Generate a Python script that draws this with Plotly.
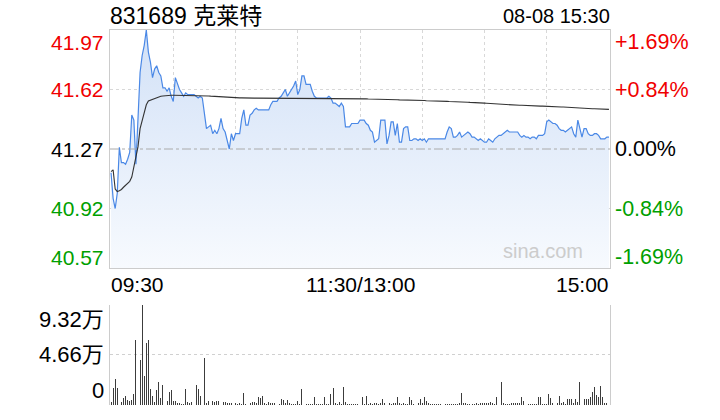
import plotly.graph_objects as go

# ---------------- data ----------------
title_text = "831689 克莱特"
date_text = "08-08 15:30"
prev_close = 41.27
price_levels = [41.97, 41.62, 41.27, 40.92, 40.57]
price_labels = ["41.97", "41.62", "41.27", "40.92", "40.57"]
pct_labels = ["+1.69%", "+0.84%", "0.00%", "-0.84%", "-1.69%"]
time_ticks = [0, 120, 240]
time_labels = ["09:30", "11:30/13:00", "15:00"]
grid_minutes = [30, 60, 90, 120, 150, 180, 210]
vol_levels = [93200, 46600, 0]
vol_labels = ["9.32万", "4.66万", "0"]

price = [
    41.13, 40.98, 40.92, 41.01, 41.28, 41.19, 41.19, 41.18, 41.21, 41.25,
    41.47, 41.44, 41.18, 41.43, 41.72, 41.82, 41.88, 41.97, 41.84, 41.78,
    41.69, 41.74, 41.76, 41.72, 41.70, 41.63, 41.63, 41.61, 41.63, 41.58,
    41.55, 41.69, 41.65, 41.62, 41.60, 41.58, 41.60, 41.59, 41.59, 41.59,
    41.59, 41.58, 41.57, 41.58, 41.57, 41.48, 41.39, 41.40, 41.41, 41.36,
    41.38, 41.36, 41.39, 41.45, 41.39, 41.37, 41.32, 41.27, 41.36, 41.32,
    41.36, 41.36, 41.36, 41.45, 41.50, 41.41, 41.41, 41.47, 41.48, 41.50,
    41.51, 41.50, 41.50, 41.50, 41.50, 41.50, 41.50, 41.53, 41.55, 41.55,
    41.55, 41.57, 41.58, 41.60, 41.62, 41.58, 41.60, 41.62, 41.64, 41.67,
    41.59, 41.62, 41.70, 41.70, 41.65, 41.65, 41.65, 41.61, 41.58, 41.57,
    41.57, 41.57, 41.57, 41.57, 41.57, 41.58, 41.57, 41.54, 41.54, 41.53,
    41.52, 41.54, 41.52, 41.40, 41.40, 41.40, 41.42, 41.42, 41.42, 41.42,
    41.44, 41.44, 41.44, 41.42, 41.41, 41.38, 41.37, 41.31, 41.32, 41.33,
    41.44, 41.44, 41.44, 41.30, 41.35, 41.43, 41.43, 41.35, 41.42, 41.31,
    41.31, 41.39, 41.40, 41.40, 41.32, 41.32, 41.33, 41.33, 41.32, 41.33,
    41.32, 41.33, 41.31, 41.33, 41.33, 41.33, 41.33, 41.33, 41.33, 41.33,
    41.33, 41.33, 41.37, 41.40, 41.39, 41.34, 41.34, 41.35, 41.37, 41.34,
    41.35, 41.36, 41.37, 41.36, 41.34, 41.34, 41.33, 41.32, 41.33, 41.32,
    41.31, 41.31, 41.33, 41.32, 41.31, 41.33, 41.34, 41.35, 41.35, 41.36,
    41.37, 41.38, 41.37, 41.37, 41.37, 41.37, 41.37, 41.35, 41.34, 41.35,
    41.34, 41.34, 41.33, 41.34, 41.34, 41.33, 41.35, 41.35, 41.35, 41.36,
    41.43, 41.44, 41.43, 41.42, 41.42, 41.41, 41.39, 41.38, 41.38, 41.37,
    41.38, 41.39, 41.40, 41.36, 41.34, 41.44, 41.39, 41.34, 41.39, 41.39,
    41.36, 41.35, 41.35, 41.36, 41.36, 41.35, 41.33, 41.33, 41.33, 41.34,
    41.34,
]

avg_price = [
    41.137, 41.147, 41.035, 41.020, 41.025, 41.032, 41.045, 41.057, 41.068, 41.080,
    41.105, 41.160, 41.235, 41.284, 41.390, 41.435, 41.490, 41.530, 41.553, 41.558,
    41.564, 41.568, 41.573, 41.578, 41.580, 41.582, 41.584, 41.585, 41.585, 41.586,
    41.586, 41.586, 41.586, 41.586, 41.586, 41.586, 41.586, 41.585, 41.585, 41.585,
    41.585, 41.585, 41.585, 41.584, 41.584, 41.584, 41.583, 41.582, 41.581, 41.580,
    41.579, 41.578, 41.577, 41.576, 41.575, 41.574, 41.573, 41.572, 41.572, 41.572,
    41.571, 41.571, 41.571, 41.571, 41.570, 41.570, 41.570, 41.570, 41.570, 41.569,
    41.569, 41.569, 41.569, 41.569, 41.568, 41.568, 41.568, 41.568, 41.568, 41.568,
    41.568, 41.568, 41.568, 41.568, 41.568, 41.568, 41.568, 41.568, 41.568, 41.568,
    41.568, 41.568, 41.568, 41.568, 41.568, 41.568, 41.568, 41.568, 41.568, 41.568,
    41.568, 41.568, 41.568, 41.568, 41.568, 41.568, 41.568, 41.568, 41.568, 41.568,
    41.568, 41.568, 41.568, 41.568, 41.568, 41.567, 41.567, 41.567, 41.566, 41.566,
    41.566, 41.565, 41.565, 41.565, 41.564, 41.564, 41.564, 41.563, 41.563, 41.563,
    41.562, 41.562, 41.562, 41.561, 41.561, 41.561, 41.560, 41.560, 41.560, 41.559,
    41.559, 41.559, 41.558, 41.558, 41.558, 41.557, 41.557, 41.556, 41.556, 41.555,
    41.555, 41.555, 41.554, 41.554, 41.553, 41.553, 41.553, 41.552, 41.552, 41.551,
    41.551, 41.550, 41.550, 41.549, 41.549, 41.548, 41.548, 41.547, 41.547, 41.546,
    41.546, 41.545, 41.545, 41.544, 41.544, 41.543, 41.542, 41.542, 41.541, 41.540,
    41.540, 41.539, 41.538, 41.537, 41.537, 41.536, 41.535, 41.534, 41.533, 41.532,
    41.531, 41.530, 41.530, 41.529, 41.529, 41.528, 41.528, 41.527, 41.527, 41.526,
    41.526, 41.525, 41.525, 41.524, 41.524, 41.523, 41.523, 41.522, 41.522, 41.521,
    41.521, 41.520, 41.520, 41.519, 41.519, 41.518, 41.518, 41.517, 41.517, 41.516,
    41.516, 41.515, 41.515, 41.514, 41.513, 41.512, 41.511, 41.510, 41.510, 41.509,
    41.508, 41.508, 41.507, 41.507, 41.506, 41.506, 41.505, 41.505, 41.504, 41.504,
    41.503,
]

volume = [
    2400, 16000, 24500, 16000, 300, 3000, 6900, 8500, 5000, 3500,
    4700, 10400, 60500, 23800, 41700, 93200, 26600, 57400, 60500, 15300,
    8800, 2500, 14100, 21000, 6300, 19100, 6300, 4000, 12500, 14400,
    4000, 4000, 1900, 1900, 600, 600, 15300, 2800, 2200, 2800,
    18200, 18200, 15300, 8500, 300, 43600, 1900, 4000, 300, 4000,
    2500, 3500, 4000, 1600, 3000, 2500, 1900, 2200, 2200, 300,
    1500, 1200, 1500, 1000, 10900, 1000, 600, 1500, 2500, 3100,
    1500, 7800, 6600, 8800, 1500, 800, 3100, 1500, 1500, 1800,
    1000, 1200, 5600, 5000, 1500, 5000, 1500, 900, 900, 900,
    4100, 600, 15300, 4100, 900, 900, 600, 900, 7200, 900,
    600, 900, 900, 7200, 900, 600, 10600, 15600, 1500, 900,
    3100, 900, 16600, 2800, 1000, 900, 1200, 900, 600, 900,
    1500, 7200, 1000, 8800, 900, 1500, 1200, 1500, 1500, 800,
    1500, 5300, 1500, 3400, 1500, 900, 1500, 1500, 7800, 1500,
    900, 1500, 900, 1200, 7200, 5000, 900, 1500, 1800, 5300,
    1500, 7800, 4100, 1500, 900, 600, 900, 900, 1200, 900,
    900, 900, 600, 900, 900, 900, 900, 1200, 1500, 10900,
    1500, 1500, 900, 600, 900, 900, 1500, 1200, 1800, 1500,
    2200, 1500, 1800, 2800, 1800, 900, 7800, 900, 21300, 1500,
    900, 600, 1200, 1500, 1500, 1800, 1500, 1500, 7200, 4100,
    900, 900, 900, 600, 900, 900, 7200, 7200, 900, 1200,
    900, 10000, 6600, 1500, 3400, 1500, 8800, 1500, 3100, 900,
    5900, 5900, 5900, 1500, 5900, 3100, 21000, 3100, 5900, 5900,
    5900, 7800, 11900, 16600, 9700, 7200, 17500, 7800, 1500, 1500,
    27500,
]

minutes = list(range(len(price)))

# ---------------- styling ----------------
FONT = "Liberation Sans, Arial, Noto Sans CJK SC"
RED, BLACK, GREEN = "#f00000", "#000000", "#00a000"
level_colors = [RED, RED, BLACK, GREEN, GREEN]
PRICE_DOM = [0.3653, 1.0]
VOL_DOM = [0.0, 0.2667]

fig = go.Figure()
fig.add_trace(go.Scatter(
    x=minutes, y=price, mode="lines",
    line=dict(color="#4a88e6", width=1.2),
    fill="tozeroy",
    fillgradient=dict(type="vertical", start=price_levels[-1], stop=price_levels[0],
                      colorscale=[[0, "rgb(247,250,254)"], [1, "rgb(210,225,247)"]]),
    xaxis="x", yaxis="y", hoverinfo="skip",
))
fig.add_trace(go.Scatter(
    x=minutes, y=avg_price, mode="lines",
    line=dict(color="#333333", width=1.1),
    xaxis="x", yaxis="y", hoverinfo="skip",
))
fig.add_trace(go.Bar(
    x=minutes, y=volume, width=0.45,
    marker=dict(color="#3c3c3c", line=dict(width=0)),
    xaxis="x2", yaxis="y2", hoverinfo="skip",
))

fig.update_layout(
    width=720, height=420,
    margin=dict(l=110, r=110, t=30, b=15),
    paper_bgcolor="white", plot_bgcolor="white",
    showlegend=False, bargap=0,
    font=dict(family=FONT, size=21, color="#000"),
    xaxis=dict(domain=[0, 1], range=[-0.5, 240.5], anchor="y",
               tickvals=grid_minutes, showticklabels=False, ticks="",
               showgrid=True, gridcolor="#d8d8d8", griddash="dot", gridwidth=1,
               showline=True, linecolor="#cccccc", linewidth=1, mirror=True,
               zeroline=False),
    yaxis=dict(domain=PRICE_DOM, range=[price_levels[-1], price_levels[0]], anchor="x",
               tickvals=[price_levels[1], price_levels[3]], showticklabels=False, ticks="",
               showgrid=True, gridcolor="#d8d8d8", griddash="dot", gridwidth=1,
               showline=True, linecolor="#cccccc", linewidth=1, mirror=True,
               zeroline=False),
    xaxis2=dict(domain=[0, 1], range=[-0.5, 240.5], anchor="y2",
                tickvals=grid_minutes, showticklabels=False, ticks="",
                showgrid=False, showline=False, zeroline=False),
    yaxis2=dict(domain=VOL_DOM, range=[0, vol_levels[0]], anchor="x2",
                tickvals=vol_levels[:2], showticklabels=False, ticks="",
                showgrid=True, gridcolor="#d0d0d0", griddash="dot", gridwidth=1,
                showline=True, linecolor="#cccccc", linewidth=1, mirror=True,
                zeroline=False),
)

# previous-close reference line
fig.add_shape(type="line", xref="x domain", yref="y", x0=0, x1=1,
              y0=prev_close, y1=prev_close,
              line=dict(color="#aaaaaa", width=1, dash="dashdot"))

# price axis labels (left: price, right: percent)
n = len(price_levels)
for k, (lv, lab, pct, col) in enumerate(zip(price_levels, price_labels, pct_labels, level_colors)):
    shift = -12 if k == 0 else (11 if k == n - 1 else 0)
    fig.add_annotation(xref="paper", yref="y", x=0, y=lv, text=lab, showarrow=False,
                       xanchor="right", yanchor="middle", xshift=-4, yshift=shift,
                       font=dict(color=col, size=21))
    fig.add_annotation(xref="paper", yref="y", x=1, y=lv, text=pct, showarrow=False,
                       xanchor="left", yanchor="middle", xshift=3, yshift=shift,
                       font=dict(color=col, size=21.5))

# time labels
anchors = ["left", "center", "right"]
for t, lab, anc in zip(time_ticks, time_labels, anchors):
    fig.add_annotation(xref="x", yref="paper", x=t, y=PRICE_DOM[0], text=lab,
                       showarrow=False, xanchor=anc, yanchor="top", yshift=-3,
                       xshift=(-2 if anc == "left" else (2 if anc == "right" else 0)),
                       font=dict(size=21))

# volume labels
for k, (lv, lab) in enumerate(zip(vol_levels, vol_labels)):
    shift = -15 if k == 0 else (14 if k == len(vol_levels) - 1 else 0)
    fig.add_annotation(xref="paper", yref="y2", x=0, y=lv, text=lab, showarrow=False,
                       xanchor="right", yanchor="middle", xshift=-4, yshift=shift,
                       font=dict(size=22))

# title and date
fig.add_annotation(xref="paper", yref="paper", x=0, y=1, text=title_text, showarrow=False,
                   xanchor="left", yanchor="bottom", yshift=-1, xshift=-2,
                   font=dict(size=23))
fig.add_annotation(xref="paper", yref="paper", x=1, y=1, text=date_text, showarrow=False,
                   xanchor="right", yanchor="bottom", yshift=1, xshift=2,
                   font=dict(size=20))

# watermark
fig.add_annotation(xref="paper", yref="y", x=0.95, y=price_levels[-1], text="sina.com",
                   showarrow=False, xanchor="right", yanchor="bottom", yshift=4,
                   font=dict(size=20, color="#cccccc"))

fig.write_html("out.html", config={"displayModeBar": False, "staticPlot": True},
               post_script="document.body.style.margin='0px';document.body.style.overflow='hidden';")
